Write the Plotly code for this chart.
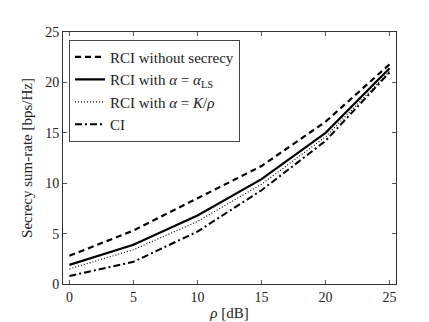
import plotly.graph_objs as go

# SNR in dB
rho_db = [0, 5, 10, 15, 20, 25]

# secrecy sum-rate [bps/Hz]
rci_no_secrecy = [2.8, 5.3, 8.5, 11.7, 16.1, 21.8]
rci_alpha_ls = [1.9, 3.9, 6.8, 10.4, 15.0, 21.4]
rci_alpha_k_rho = [1.5, 3.4, 6.2, 9.9, 14.6, 21.1]
ci = [0.8, 2.2, 5.2, 9.3, 14.2, 21.0]

names = [
    'RCI without secrecy',
    'RCI with <i>α</i> = <i>α</i><sub>LS</sub>',
    'RCI with <i>α</i> = <i>K</i>/<i>ρ</i>',
    'CI',
]
series = [rci_no_secrecy, rci_alpha_ls, rci_alpha_k_rho, ci]
styles = [
    dict(dash='6px,4px', width=2.2),
    dict(dash='solid', width=2.2),
    dict(dash='1px,2px', width=1.2),
    dict(dash='7px,3px,2px,3px', width=2.0),
]

SERIF = 'Liberation Serif'


def serif(txt):
    return '<span style="font-family:\'Liberation Serif\',serif">' + txt + '</span>'


fig = go.Figure()
for name, y, st in zip(names, series, styles):
    fig.add_trace(go.Scatter(
        x=rho_db, y=y, name=serif(name), mode='lines',
        line=dict(color='black', **st)
    ))

axis_common = dict(
    showgrid=False, zeroline=False, mirror='ticks', ticks='inside',
    ticklen=4, tickcolor='#555', showline=True, linecolor='#333', linewidth=1,
    tickfont=dict(family=SERIF, size=14, color='#222'),
)

fig.update_xaxes(range=[-0.5, 25.5], tickvals=[0, 5, 10, 15, 20, 25],
                 title=dict(text=serif('<i>ρ</i> [dB]'), standoff=3,
                            font=dict(family=SERIF, size=15, color='#222')),
                 **axis_common)
fig.update_yaxes(range=[0, 25], tickvals=[0, 5, 10, 15, 20, 25],
                 title=dict(text='Secrecy sum-rate [bps/Hz]', standoff=8,
                            font=dict(family=SERIF, size=15, color='#222')),
                 **axis_common)

fig.update_layout(
    width=429, height=322,
    plot_bgcolor='white', paper_bgcolor='white',
    margin=dict(l=55, r=41, t=24, b=39),
    font=dict(family=SERIF, size=15, color='#222'),
    legend=dict(
        x=0.018, y=0.97, xanchor='left', yanchor='top',
        bgcolor='white', bordercolor='#444', borderwidth=1,
        font=dict(family=SERIF, size=15, color='#222'),
        tracegroupgap=2, itemwidth=30,
    ),
)

fig.write_html("out.html")
